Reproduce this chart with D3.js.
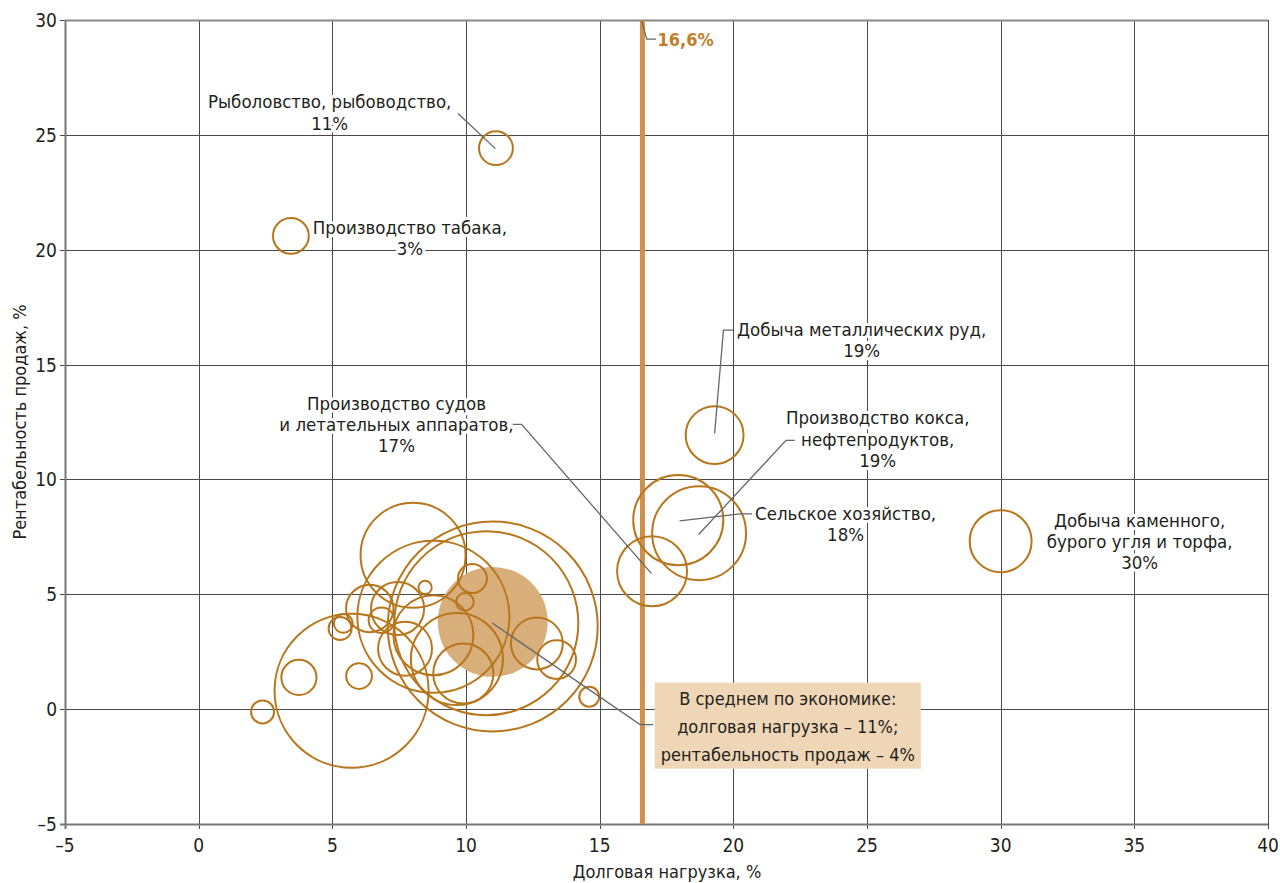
<!DOCTYPE html>
<html>
<head>
<meta charset="utf-8">
<script src="https://cdn.jsdelivr.net/npm/d3@7"></script>
<style>
  body { margin: 0; background: #fff; }
  svg text { font-family: "Liberation Sans Narrow", "DejaVu Sans Condensed", "Roboto", sans-serif; fill: #231f20; }
</style>
</head>
<body>
<svg width="1280" height="883"></svg>
<script>
// industries: debt load (%), sales margin (%), bubble weight
var names = [
  "Рыболовство, рыбоводство", "Производство табака", "Добыча металлических руд",
  "Производство кокса, нефтепродуктов", "Сельское хозяйство",
  "Производство судов и летательных аппаратов", "Добыча каменного, бурого угля и торфа",
  "", "", "", "", "", "", "", "", "", "", "", "", "", "", "", "", "", "", "", "", "", "", ""
];
var debtLoad = [11.12, 3.45, 19.3, 18.72, 17.94, 16.96, 30.0,
  8.02, 8.78, 11.0, 10.76, 9.66, 9.9, 7.72, 8.78, 7.44, 6.84, 6.4, 5.41, 5.29,
  8.47, 10.24, 9.96, 12.65, 13.39, 14.61, 3.75, 6.0, 2.39, 5.72, 4.54, 5.55];
var margin = [24.42, 20.6, 11.93, 7.66, 8.23, 6.0, 7.31,
  6.7, 4.02, 3.6, 3.74, 2.18, 1.55, 2.63, 3.22, 4.38, 3.87, 4.38, 3.73, 3.51,
  5.3, 5.69, 4.67, 2.86, 2.16, 0.54, 1.38, 1.44, -0.12, 0.8, 5.31, 5.35];
var weight = [2.6, 2.9, 7.6, 20, 18.4, 11.1, 8.7,
  25, 52.4, 100, 76.8, 19.2, 8.2, 6.6, 14.5, 6.4, 1.5, 5.1, 0.8, 1.2,
  0.4, 1.9, 0.7, 6.1, 3.4, 0.9, 2.8, 1.5, 1.2, 53.8, 0.7, 5.2];

var avgDebt = 11.0, avgMargin = 3.8, avgWeight = 27.4;
var threshold = 16.6;

var xTicks = [-5, 0, 5, 10, 15, 20, 25, 30, 35, 40];
var yTicks = [-5, 0, 5, 10, 15, 20, 25, 30];

// annotation text lines, anchored in data units
var labels = [
  { lines: ["Рыболовство, рыбоводство,", "11%"], at: [4.9, 26.16] },
  { lines: ["Производство табака,", "3%"], at: [7.9, 20.68] },
  { lines: ["Добыча металлических руд,", "19%"], at: [24.8, 16.26] },
  { lines: ["Производство кокса,", "нефтепродуктов,", "19%"], at: [25.4, 12.4] },
  { lines: ["Сельское хозяйство,", "18%"], at: [24.2, 8.25] },
  { lines: ["Добыча каменного,", "бурого угля и торфа,", "30%"], at: [35.2, 7.95] },
  { lines: ["Производство судов", "и летательных аппаратов,", "17%"], at: [7.4, 13.03] }
];
// leader lines: [label end, elbow, bubble]
var leaders = [
  [[9.7, 25.93], [9.7, 25.93], [11.1, 24.4]],
  [[19.99, 16.5], [19.63, 16.5], [19.3, 12.0]],
  [[22.3, 11.7], [21.97, 11.7], [18.7, 7.6]],
  [[20.7, 8.5], [20.25, 8.5], [17.99, 8.2]],
  [[11.75, 12.4], [12.08, 12.4], [16.94, 5.9]],
  [[16.57, 29.97], [16.76, 29.17], [17.11, 29.17]],
  [[10.98, 3.75], [16.51, -0.67], [17.0, -0.67]]
];

var svg = d3.select("svg");
var x = d3.scaleLinear().domain([-5, 40]).range([65, 1268]);
var y = d3.scaleLinear().domain([-5, 30]).range([824, 20]);
var r = d3.scaleSqrt().domain([0, 100]).range([0, 105]);

var grid = svg.append("g");
grid.selectAll("line.gx").data(xTicks).enter().append("line")
    .attr("x1", function(d) { return Math.round(x(d)) + 0.5; })
    .attr("x2", function(d) { return Math.round(x(d)) + 0.5; })
    .attr("y1", y(30)).attr("y2", y(-5) + 5)
    .attr("stroke", "#4a4a4a").attr("stroke-width", 1);
grid.selectAll("line.gy").data(yTicks).enter().append("line")
    .attr("y1", function(d) { return Math.round(y(d)) + 0.5; })
    .attr("y2", function(d) { return Math.round(y(d)) + 0.5; })
    .attr("x1", x(-5) - 5).attr("x2", x(40))
    .attr("stroke", "#4a4a4a").attr("stroke-width", 1);
// axis lines slightly heavier
svg.append("line").attr("x1", x(-5) + 0.5).attr("x2", x(-5) + 0.5)
    .attr("y1", y(30)).attr("y2", y(-5) + 5).attr("stroke", "#777").attr("stroke-width", 2);
svg.append("line").attr("x1", x(-5) - 5).attr("x2", x(40))
    .attr("y1", y(-5) + 0.5).attr("y2", y(-5) + 0.5).attr("stroke", "#777").attr("stroke-width", 2);
svg.append("line").attr("x1", x(-5)).attr("x2", x(40))
    .attr("y1", y(30) + 0.5).attr("y2", y(30) + 0.5).attr("stroke", "#888").attr("stroke-width", 2);

svg.selectAll("text.xt").data(xTicks).enter().append("text")
    .attr("x", function(d) { return x(d); }).attr("y", 852)
    .attr("text-anchor", "middle").attr("font-size", 19)
    .text(function(d) { return d < 0 ? "–" + Math.abs(d) : d; });
svg.selectAll("text.yt").data(yTicks).enter().append("text")
    .attr("x", 57).attr("y", function(d) { return y(d) + 7; })
    .attr("text-anchor", "end").attr("font-size", 19)
    .text(function(d) { return d < 0 ? "–" + Math.abs(d) : d; });

svg.append("text").attr("x", 667).attr("y", 878).attr("text-anchor", "middle")
    .attr("font-size", 18).text("Долговая нагрузка, %");
svg.append("text").attr("transform", "translate(26,422) rotate(-90)")
    .attr("text-anchor", "middle").attr("font-size", 18).text("Рентабельность продаж, %");

// threshold line
svg.append("line").attr("x1", x(threshold)).attr("x2", x(threshold))
    .attr("y1", y(30)).attr("y2", y(-5))
    .attr("stroke", "#d0904a").attr("stroke-width", 5);

// average bubble
svg.append("circle").attr("cx", x(avgDebt)).attr("cy", y(avgMargin)).attr("r", r(avgWeight))
    .attr("fill", "#d8ae7a");

var data = names.map(function(n, i) { return { name: n, x: debtLoad[i], y: margin[i], w: weight[i] }; });
svg.append("g").selectAll("circle").data(data).enter().append("circle")
    .attr("cx", function(d) { return x(d.x); })
    .attr("cy", function(d) { return y(d.y); })
    .attr("r", function(d) { return r(d.w); })
    .attr("fill", "none").attr("stroke", "#b8761c").attr("stroke-width", 2);

// leaders
var line = d3.line().x(function(p) { return x(p[0]); }).y(function(p) { return y(p[1]); });
svg.append("g").selectAll("path").data(leaders).enter().append("path")
    .attr("d", line).attr("fill", "none").attr("stroke", "#666").attr("stroke-width", 1.3);

// labels with white halo
labels.forEach(function(l) {
  var t = svg.append("text").attr("text-anchor", "middle").attr("font-size", 18.5);
  l.lines.forEach(function(s, i) {
    t.append("tspan").attr("x", x(l.at[0])).attr("y", y(l.at[1]) + i * 21.3).text(s);
  });
  t.clone(true).lower().attr("stroke", "#fff").attr("stroke-width", 6)
    .attr("stroke-linejoin", "round").style("fill", "#fff");
});
// keep halos just above the grid
svg.selectAll("text").filter(function() { return this.getAttribute("stroke") === "#fff"; })
    .each(function() { this.parentNode.insertBefore(this, grid.node().nextSibling); });

svg.append("text").attr("x", x(threshold) + 15).attr("y", 46)
    .attr("font-size", 18).attr("font-weight", "bold").style("fill", "#c17e2a").text("16,6%");

// average box
var bx = x(17.1), by = y(1.15);
svg.append("rect").attr("x", bx - 1).attr("y", by).attr("width", 266).attr("height", 86)
    .attr("fill", "#efd6b6");
var avgLines = ["В среднем по экономике:", "долговая нагрузка – 11%;", "рентабельность продаж – 4%"];
svg.append("text").attr("text-anchor", "middle").attr("font-size", 18)
  .selectAll("tspan").data(avgLines).enter().append("tspan")
    .attr("x", bx + 132).attr("y", function(d, i) { return by + 22 + i * 28; })
    .text(function(d) { return d; });
</script>
</body>
</html>
